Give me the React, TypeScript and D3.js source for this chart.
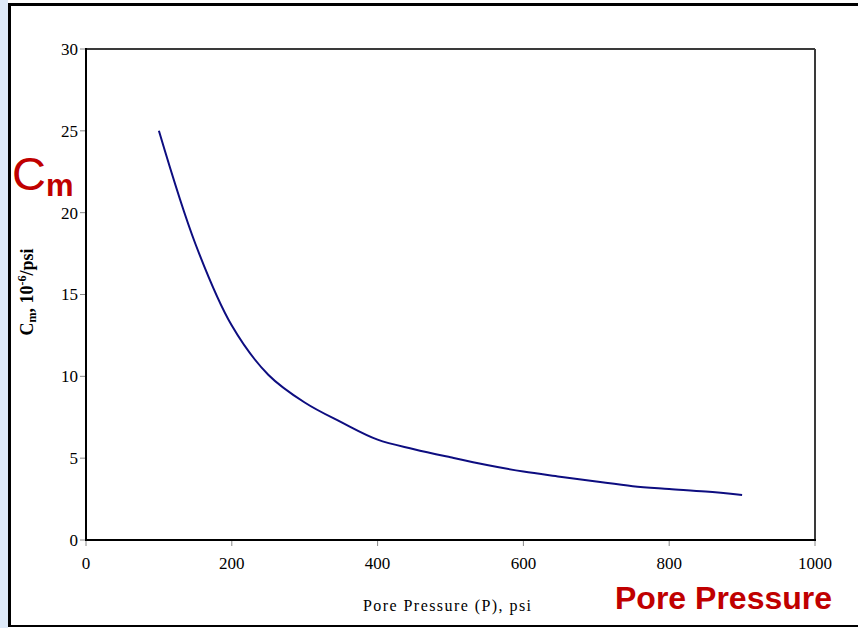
import React from "react";
import * as d3 from "d3";

const pressure = [100, 150, 200, 250, 300, 350, 400, 450, 500, 550, 600, 650, 700, 750, 800, 850, 900];
const cm = [25, 18.1, 13.1, 10.1, 8.4, 7.2, 6.13, 5.55, 5.05, 4.58, 4.18, 3.87, 3.57, 3.29, 3.12, 2.96, 2.75];
const xTicks = [0, 200, 400, 600, 800, 1000];
const yTicks = [0, 5, 10, 15, 20, 25, 30];

export default function App() {
  const W = 858, H = 628;
  const left = 86, right = 815, top = 49, bottom = 540;
  const x = d3.scaleLinear().domain([0, 1000]).range([left, right]);
  const y = d3.scaleLinear().domain([0, 30]).range([bottom, top]);
  const data = pressure.map((p, i) => [p, cm[i]] as [number, number]);
  const line = d3.line<[number, number]>().x(d => x(d[0])).y(d => y(d[1])).curve(d3.curveCatmullRom.alpha(0.5));
  const serif = "'Liberation Serif', 'DejaVu Serif', 'Times New Roman', serif";
  const sans = "'Liberation Sans', Arial, sans-serif";
  return (
    <svg width={W} height={H} style={{ position: "absolute", left: 0, top: 0, display: "block" }}>
      <rect x={0} y={0} width={W} height={H} fill="#ffffff" />
      <rect x={0} y={0} width={8} height={H} fill="#dde9f8" />
      <line x1={9.5} y1={3} x2={9.5} y2={627} stroke="#000" strokeWidth={3} />
      <line x1={8} y1={4.5} x2={W} y2={4.5} stroke="#000" strokeWidth={3} />
      <line x1={8} y1={626} x2={W} y2={626} stroke="#000" strokeWidth={2} />
      {/* plot frame */}
      <line x1={left} y1={top} x2={right} y2={top} stroke="#3a3a3a" strokeWidth={2} />
      <line x1={right} y1={top} x2={right} y2={bottom} stroke="#3a3a3a" strokeWidth={2} />
      {yTicks.map(t => (
        <g key={"y" + t}>
          <line x1={left - 6} x2={left} y1={y(t)} y2={y(t)} stroke="#888" strokeWidth={1} />
          <text x={left - 8} y={y(t)} dy="0.35em" textAnchor="end" fontFamily={serif} fontSize={17} fill="#000">{t}</text>
        </g>
      ))}
      {xTicks.map(t => (
        <g key={"x" + t}>
          <line x1={x(t)} x2={x(t)} y1={bottom} y2={bottom + 6} stroke="#888" strokeWidth={1} />
          <text x={x(t)} y={bottom + 29} textAnchor="middle" fontFamily={serif} fontSize={17} fill="#000">{t}</text>
        </g>
      ))}
      <line x1={left} y1={top - 1} x2={left} y2={bottom + 1} stroke="#000" strokeWidth={2} />
      <line x1={left - 1} y1={bottom} x2={right + 1} y2={bottom} stroke="#000" strokeWidth={2} />
      <path d={line(data) || ""} fill="none" stroke="#0d0d80" strokeWidth={2} />
      {/* axis titles */}
      <text x={363} y={611} textLength={168} lengthAdjust="spacing" fontFamily={serif} fontSize={16} fill="#000">Pore Pressure (P), psi</text>
      <text transform="translate(33,292) rotate(-90)" textAnchor="middle" fontFamily={serif} fontSize={18} fontWeight="bold" fill="#000">
        C<tspan fontSize={12} dy={3}>m</tspan><tspan dy={-3}>, 10</tspan><tspan fontSize={12} dy={-7}>-6</tspan><tspan dy={7}>/psi</tspan>
      </text>
      {/* red annotations */}
      <text x={12} y={190} fontFamily={sans} fontSize={47} fill="#c00000">C<tspan fontSize={31} fontWeight="bold" dy={6}>m</tspan></text>
      <text x={615} y={609} fontFamily={sans} fontSize={32} fontWeight="bold" fill="#c00000">Pore Pressure</text>
    </svg>
  );
}
